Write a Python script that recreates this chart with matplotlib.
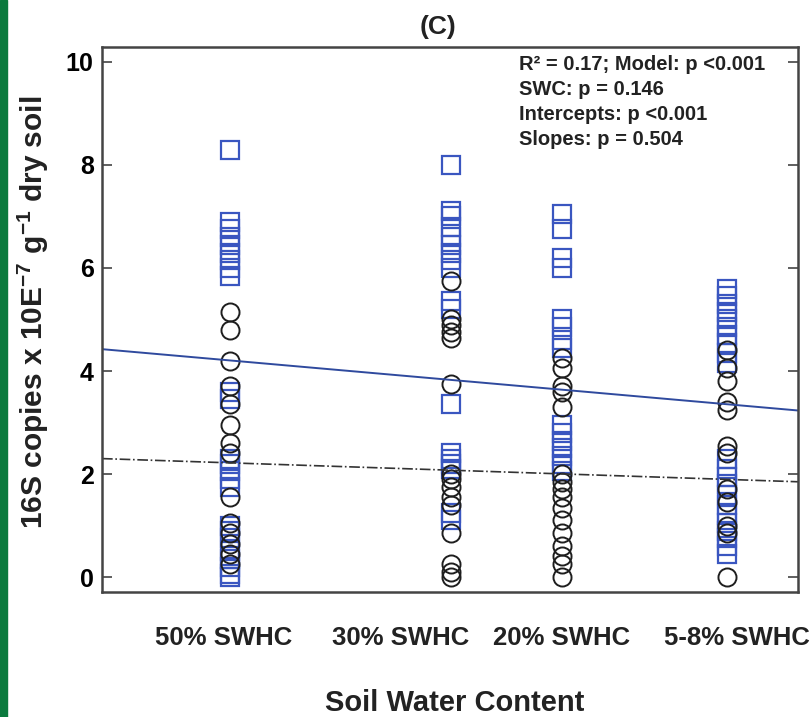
import numpy as np
import matplotlib
matplotlib.use('Agg')
import matplotlib.pyplot as plt
from matplotlib.patches import Rectangle

plt.rcParams['font.family'] = ['Liberation Sans', 'DejaVu Sans']
plt.rcParams['font.weight'] = 'bold'
plt.rcParams['mathtext.fontset'] = 'custom'
plt.rcParams['mathtext.rm'] = 'Liberation Sans:bold'
plt.rcParams['mathtext.bf'] = 'Liberation Sans:bold'
plt.rcParams['mathtext.default'] = 'bf'

# soil water content levels (% SWHC, plotted on a reversed axis)
swc = [50, 30, 20, 5]
swcLbl = ['50% SWHC', '30% SWHC', '20% SWHC', '5-8% SWHC']

# blue squares, one list per SWC level
sq50 = [8.3, 6.9, 6.75, 6.6, 6.45, 6.3, 6.15, 6.0, 5.85, 3.6, 3.45, 2.3, 2.2,
        2.05, 1.9, 1.75, 1.0, 0.9, 0.75, 0.5, 0.35, 0.2, 0.05, 0.0]
sq30 = [8.0, 7.1, 7.0, 6.8, 6.6, 6.45, 6.3, 6.15, 6.0, 5.35, 5.2, 3.35, 2.4,
        2.3, 2.2, 2.1, 1.25, 1.1]
sq20 = [7.05, 6.75, 6.2, 6.0, 5.0, 4.85, 4.6, 4.45, 2.95, 2.8, 2.65, 2.5,
        2.35, 2.2, 2.05]
sq5 = [5.6, 5.45, 5.3, 5.15, 5.0, 4.85, 4.7, 4.55, 4.35, 4.15, 2.3, 2.1, 1.95,
       1.8, 1.6, 1.4, 1.2, 1.05, 0.9, 0.75, 0.6, 0.45]

# open black circles, one list per SWC level
ci50 = [5.15, 4.8, 4.2, 3.7, 3.35, 2.95, 2.6, 2.4, 1.55, 1.05, 0.85, 0.65,
        0.45, 0.25]
ci30 = [5.75, 5.0, 4.9, 4.75, 4.65, 3.75, 2.0, 1.9, 1.75, 1.55, 1.4, 0.85,
        0.25, 0.1, 0.0]
ci20 = [4.25, 4.05, 3.7, 3.6, 3.3, 2.0, 1.85, 1.7, 1.55, 1.35, 1.1, 0.85, 0.6,
        0.4, 0.25, 0.0]
ci5 = [4.4, 4.05, 3.8, 3.4, 3.25, 2.55, 2.4, 1.7, 1.45, 1.0, 0.85, 0.0]

# regression lines (intercept, slope vs SWC)
fitSq = (3.26, 0.0189)
fitCi = (1.86, 0.00714)

annot = ('R\u00b2 = 0.17; Model: p <0.001\nSWC: p = 0.146\n'
         'Intercepts: p <0.001\nSlopes: p = 0.504')

sqCol = '#3a56c0'
ciCol = '#1e1e1e'

fig = plt.figure(figsize=(8.1, 7.17), dpi=100)
fig.patches.append(Rectangle((0, 0), 7/810, 1, transform=fig.transFigure,
                             color='#0b7a3e', zorder=0))
ax = fig.add_axes([102/810, 1-592/717, 696/810, 545/717])

for x, s in zip(swc, [sq50, sq30, sq20, sq5]):
    ax.plot([x]*len(s), s, 's', ms=12.5, mfc='none', mec=sqCol, mew=1.6)
for x, c in zip(swc, [ci50, ci30, ci20, ci5]):
    ax.plot([x]*len(c), c, 'o', ms=13, mfc='none', mec=ciCol, mew=1.4)

xlim = (61.6, -1.4)
xx = np.array(xlim)
ax.plot(xx, fitSq[0] + fitSq[1]*xx, '-', color='#2f4a9e', lw=1.4)
ax.plot(xx, fitCi[0] + fitCi[1]*xx, '-.', color='#333333', lw=1.2)

ax.set_xlim(xlim)
ax.set_ylim(-0.29, 10.29)
ax.set_xticks([])
ax.set_yticks(np.arange(0, 11, 2))
ax.tick_params(axis='y', direction='in', right=True, length=7, width=1.2,
               labelsize=18, pad=6, color='#444444')
for sp in ax.spines.values():
    sp.set_linewidth(1.8)
    sp.set_color('#444444')

xLblPos = [224, 401, 562, 737]
for lbl, px in zip(swcLbl, xLblPos):
    fig.text(px/810, 1-638/717, lbl, ha='center', va='center', fontsize=18.5,
             fontweight='bold', color='#222222')
fig.text(455/810, 1-703/717, 'Soil Water Content', ha='center', va='center',
         fontsize=21, fontweight='bold', color='#222222')
fig.text(33/810, 1-312/717, r'16S copies x 10E$^{-7}$ g$^{-1}$ dry soil',
         rotation=90, ha='center', va='center', fontsize=21.5,
         fontweight='bold', color='#222222')
fig.text(438/810, 1-27/717, '(C)', ha='center', va='center', fontsize=19,
         fontweight='bold', color='#222222')
fig.text(519/810, 1-55/717, annot, ha='left', va='top', fontsize=14.5,
         fontweight='bold', color='#222222', linespacing=1.4)

fig.savefig('out.png', dpi=100)
